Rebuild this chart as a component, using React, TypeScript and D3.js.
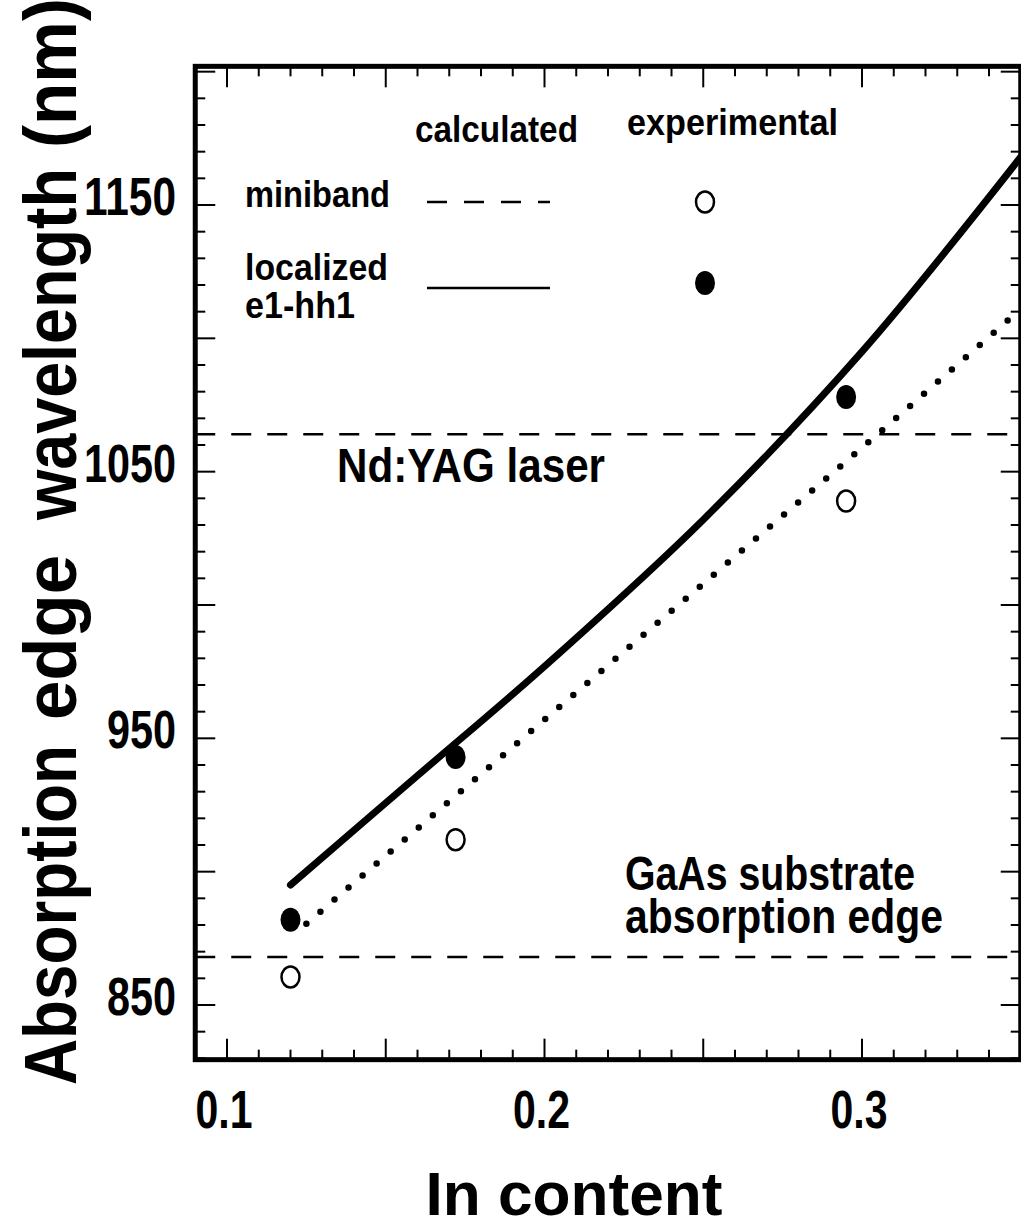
import React from "react";
import * as d3 from "d3";

// ---- data ----
const solidX = [0.12, 0.16, 0.2, 0.25, 0.3, 0.35];
const solidY = [895, 936, 977, 1032, 1095, 1168];
const dottedX = [0.125, 0.2, 0.25, 0.3, 0.35];
const dottedY = [880.5, 957, 1008, 1059, 1111];
const filledX = [0.12, 0.172, 0.295];
const filledY = [882, 943, 1078];
const openX = [0.12, 0.172, 0.295];
const openY = [860.5, 912, 1039];
const ndYag = 1064;
const gaAs = 868;
const xTickLabels = [0.1, 0.2, 0.3];
const yTickLabels = [850, 950, 1050, 1150];
const yTitleWords = ["Absorption", "edge", "wavelength", "(nm)"];

const FONT = "'Liberation Sans', Arial, sans-serif";

type TProps = { x: number; y: number; w: number; size: number; anchor?: string; children: string; transform?: string };
const T = ({ x, y, w, size, anchor = "start", children, transform }: TProps) => (
  <text
    x={x}
    y={y}
    transform={transform}
    textAnchor={anchor as any}
    fontFamily={FONT}
    fontWeight="bold"
    fontSize={size}
    fill="#000"
    textLength={w}
    lengthAdjust="spacingAndGlyphs"
  >
    {children}
  </text>
);

export default function App() {
  const W = 1021, H = 1228;
  const x = d3.scaleLinear().domain([0.1, 0.3]).range([227, 862]);
  const y = d3.scaleLinear().domain([850, 1150]).range([1005, 205]);
  const x0 = 0.09, x1 = 0.35, y0 = 829.5, y1 = 1202;
  const L = x(x0), R = x(x1), Tp = y(y1), B = y(y0);

  const solidLine = d3.line<[number, number]>().x(d => x(d[0])).y(d => y(d[1])).curve(d3.curveCatmullRom.alpha(0.5));
  const dotLine = d3.line<[number, number]>().x(d => x(d[0])).y(d => y(d[1])).curve(d3.curveMonotoneX);
  const solidPts: [number, number][] = solidX.map((v, i) => [v, solidY[i]]);
  const dottedPts: [number, number][] = dottedX.map((v, i) => [v, dottedY[i]]);

  const xMinor = d3.range(0, 26).map(i => +(0.09 + i * 0.01).toFixed(2)).filter(v => v > x0 && v < x1);
  const yMinor = d3.range(83, 121).map(i => i * 10).filter(v => v > y0 && v < y1);
  const isXMajor = (v: number) => Math.abs(Math.round(v * 20) - v * 20) < 1e-6;
  const isYMajor = (v: number) => v % 50 === 0;

  const titleStarts = [0, 365, 565, 937];
  const titleLens = [340, 165, 352, 150];

  return (
    <svg width={W} height={H} style={{ position: "absolute", left: 0, top: 0, background: "#fff" }}>
      <rect x={0} y={0} width={W} height={H} fill="#fff" />
      <defs>
        <clipPath id="plot">
          <rect x={L} y={Tp} width={R - L} height={B - Tp} />
        </clipPath>
      </defs>

      {xMinor.map(v => {
        const len = isXMajor(v) ? 21 : 10;
        return (
          <g key={"xt" + v} stroke="#000" strokeWidth={2}>
            <line x1={x(v)} x2={x(v)} y1={B} y2={B - len} />
            <line x1={x(v)} x2={x(v)} y1={Tp} y2={Tp + len} />
          </g>
        );
      })}
      {yMinor.map(v => {
        const len = isYMajor(v) ? 20 : 10;
        return (
          <g key={"yt" + v} stroke="#000" strokeWidth={2}>
            <line x1={L} x2={L + len} y1={y(v)} y2={y(v)} />
            <line x1={R} x2={R - len} y1={y(v)} y2={y(v)} />
          </g>
        );
      })}

      <rect x={L} y={Tp} width={R - L} height={B - Tp} fill="none" stroke="#000" strokeWidth={5} />

      <g clipPath="url(#plot)">
        <line x1={L} x2={R} y1={y(ndYag)} y2={y(ndYag)} stroke="#000" strokeWidth={2.5} strokeDasharray="20 16" />
        <line x1={L} x2={R} y1={y(gaAs)} y2={y(gaAs)} stroke="#000" strokeWidth={2.5} strokeDasharray="20 16" />
        <path d={solidLine(solidPts) || ""} fill="none" stroke="#000" strokeWidth={7} strokeLinecap="round" />
        <path d={dotLine(dottedPts) || ""} fill="none" stroke="#000" strokeWidth={6.5} strokeLinecap="round" strokeDasharray="0 18.5" />
        {filledX.map((v, i) => (
          <ellipse key={"f" + i} cx={x(v)} cy={y(filledY[i])} rx={10} ry={12} fill="#000" />
        ))}
        {openX.map((v, i) => (
          <ellipse key={"o" + i} cx={x(v)} cy={y(openY[i])} rx={9} ry={10.5} fill="#fff" stroke="#000" strokeWidth={2.5} />
        ))}
      </g>

      {/* legend */}
      <T x={415} y={142} w={163} size={37}>calculated</T>
      <T x={627} y={135} w={211} size={37}>experimental</T>
      <T x={245} y={207} w={145} size={37}>miniband</T>
      <T x={245} y={280} w={143} size={37}>localized</T>
      <T x={245} y={318} w={110} size={37}>e1-hh1</T>
      <line x1={427} x2={550} y1={202} y2={202} stroke="#000" strokeWidth={2.5} strokeDasharray="20 17" />
      <line x1={427} x2={550} y1={288} y2={288} stroke="#000" strokeWidth={2.5} />
      <ellipse cx={705} cy={202} rx={9} ry={10.5} fill="#fff" stroke="#000" strokeWidth={2.5} />
      <ellipse cx={705} cy={283} rx={10} ry={12} fill="#000" />

      {/* annotations */}
      <T x={337} y={482} w={268} size={49}>Nd:YAG laser</T>
      <T x={625} y={890} w={290} size={49}>GaAs substrate</T>
      <T x={625} y={933} w={318} size={49}>absorption edge</T>

      {/* tick labels */}
      {xTickLabels.map(v => (
        <T key={"xl" + v} x={x(v) - 3} y={1128} w={57} size={53} anchor="middle">{d3.format(".1f")(v)}</T>
      ))}
      {yTickLabels.map(v => (
        <T key={"yl" + v} x={176} y={y(v) + 10} w={String(v).length * 23} size={53} anchor="end">{String(v)}</T>
      ))}

      {/* axis titles */}
      <T x={574} y={1215} w={297} size={62} anchor="middle">In content</T>
      <g transform="translate(76,1085) rotate(-90)">
        {yTitleWords.map((wd, i) => (
          <T key={wd} x={titleStarts[i]} y={0} w={titleLens[i]} size={75}>{wd}</T>
        ))}
      </g>
    </svg>
  );
}
